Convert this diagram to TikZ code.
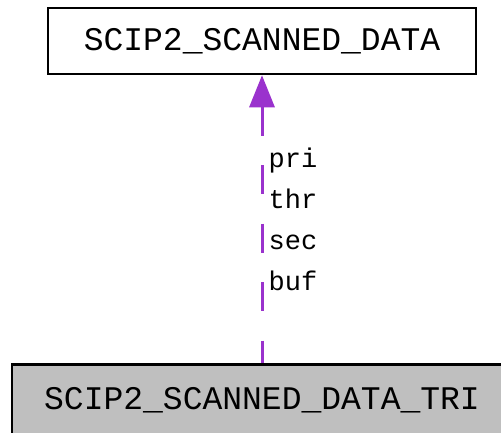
\documentclass[tikz,border=0pt]{standalone}
\usepackage{fontspec}
\setmonofont{Liberation Mono}
\usetikzlibrary{arrows.meta}
\definecolor{edgepurple}{RGB}{154,50,205}
\definecolor{boxgray}{RGB}{191,191,191}
\tikzset{
  cls/.style={
    rectangle,
    minimum width=428pt,
    minimum height=66pt,
    align=center,
    draw=black,
    line width=2.5pt,
    font=\ttfamily\fontsize{33}{40}\selectfont
  },
  current/.style={
    cls,
    minimum width=500pt,
    minimum height=72pt,
    fill=boxgray
  },
  member/.style={
    line width=3pt,
    edgepurple,
    dash pattern=on 29pt off 29.5pt,
    arrows={Triangle[length=32pt,width=25pt]-}
  },
  memberlabel/.style={
    align=center,
    inner sep=0pt,
    font=\ttfamily\fontsize{27}{41}\selectfont
  }
}
\begin{document}
\begin{tikzpicture}[x=1pt,y=-1pt]
    \useasboundingbox (0,0) rectangle (501,432);
    \node (scanned) [cls] at (262,41) {SCIP2\_SCANNED\_DATA};
    \node (scannedtri) [current] at (262,400.5) {SCIP2\_SCANNED\_DATA\_TRI};
    \draw [member] (scanned) -- (scannedtri);
    \node (vars) [memberlabel] at (293,219) {pri\\thr\\sec\\buf};
\end{tikzpicture}
\end{document}
